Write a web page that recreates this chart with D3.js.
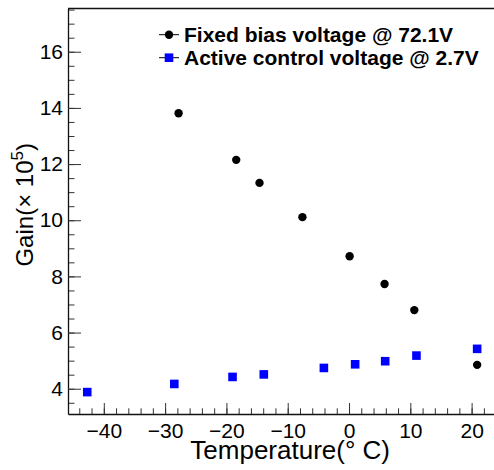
<!DOCTYPE html>
<html>
<head>
<meta charset="utf-8">
<script src="https://cdn.jsdelivr.net/npm/d3@7"></script>
<style>
  body { margin: 0; background: #fff; }
  svg { display: block; font-family: "Liberation Sans", Arial, sans-serif; }
</style>
</head>
<body>
<div class="chart"></div>
<script>
// Data
var tempFixed = [-27.8, -18.4, -14.6, -7.6, 0.1, 5.8, 10.65, 20.9];
var gainFixed = [13.81, 12.15, 11.33, 10.11, 8.72, 7.73, 6.80, 4.85];
var tempActive = [-42.7, -28.5, -19.0, -13.9, -4.1, 1.0, 5.9, 11.0, 20.9];
var gainActive = [3.88, 4.17, 4.42, 4.51, 4.74, 4.87, 4.98, 5.18, 5.42];
var legendLabels = ["Fixed bias voltage @ 72.1V", "Active control voltage @ 2.7V"];
var xTicks = [-40, -30, -20, -10, 0, 10, 20];
var yTicks = [4, 6, 8, 10, 12, 14, 16];

var svgWidth = 494;
var svgHeight = 470;

var margin = {
  top: 8.5,
  right: 0,
  bottom: 56,
  left: 68
};

var width = svgWidth - margin.left - margin.right;
var height = svgHeight - margin.top - margin.bottom;

var svg = d3.select(".chart")
  .append("svg")
  .attr("width", svgWidth)
  .attr("height", svgHeight);

var chartGroup = svg.append("g")
  .attr("transform", `translate(${margin.left}, ${margin.top})`);

// Scales
var xScale = d3.scaleLinear()
  .domain([-45.84, 23.65])
  .range([0, width]);

var yScale = d3.scaleLinear()
  .domain([3.1, 17.54])
  .range([height, 0]);

// Minor ticks (ROOT style, inside the frame)
chartGroup.append("g")
  .attr("transform", `translate(0, ${height})`)
  .call(d3.axisBottom(xScale).tickValues(d3.range(-44, 24, 2)).tickSize(-5.7).tickSizeOuter(0).tickFormat(""))
  .call(g => g.select(".domain").remove());

chartGroup.append("g")
  .call(d3.axisLeft(yScale).tickValues(d3.range(3.5, 17.6, 0.5)).tickSize(-6.5).tickSizeOuter(0).tickFormat(""))
  .call(g => g.select(".domain").remove());

// Major ticks with labels
var xAxis = chartGroup.append("g")
  .attr("transform", `translate(0, ${height})`)
  .call(d3.axisBottom(xScale).tickValues(xTicks).tickSize(-11).tickSizeOuter(0).tickPadding(9));

var yAxis = chartGroup.append("g")
  .call(d3.axisLeft(yScale).tickValues(yTicks).tickSize(-13).tickSizeOuter(0).tickPadding(5));

chartGroup.selectAll(".tick text")
  .style("font-size", "21px")
  .style("font-family", "Liberation Sans, Arial, sans-serif")
  .style("fill", "#000");

chartGroup.selectAll(".tick line").attr("stroke", "#333");
chartGroup.selectAll(".domain").attr("stroke", "#111").attr("stroke-width", 1.3);

// top frame line
chartGroup.append("line")
  .attr("x1", 0)
  .attr("x2", width)
  .attr("y1", 0)
  .attr("y2", 0)
  .attr("stroke", "#111")
  .attr("stroke-width", 1.3);

// Points
var fixedData = tempFixed.map((t, i) => ({t: t, g: gainFixed[i]}));
var activeData = tempActive.map((t, i) => ({t: t, g: gainActive[i]}));

var sq = 8.6;

chartGroup.selectAll(".active")
  .data(activeData)
  .enter()
  .append("rect")
  .attr("class", "active")
  .attr("x", d => xScale(d.t) - sq / 2)
  .attr("y", d => yScale(d.g) - sq / 2)
  .attr("width", sq)
  .attr("height", sq)
  .attr("fill", "#0000ff");

chartGroup.selectAll(".fixed")
  .data(fixedData)
  .enter()
  .append("circle")
  .attr("class", "fixed")
  .attr("cx", d => xScale(d.t))
  .attr("cy", d => yScale(d.g))
  .attr("r", 4.2)
  .attr("fill", "#000");

// Legend
var legend = svg.append("g");
var legendY = [34.7, 57.7];

legendLabels.forEach(function(label, i) {
  legend.append("line")
    .attr("x1", 159)
    .attr("x2", 179)
    .attr("y1", legendY[i])
    .attr("y2", legendY[i])
    .attr("stroke", "#000")
    .attr("stroke-width", 1);
  if (i === 0) {
    legend.append("circle")
      .attr("cx", 169)
      .attr("cy", legendY[i])
      .attr("r", 4.2)
      .attr("fill", "#000");
  } else {
    legend.append("rect")
      .attr("x", 169 - sq / 2)
      .attr("y", legendY[i] - sq / 2)
      .attr("width", sq)
      .attr("height", sq)
      .attr("fill", "#0000ff");
  }
  legend.append("text")
    .attr("x", 184)
    .attr("y", legendY[i] + 7.3)
    .style("font-size", "21px")
    .style("font-weight", "bold")
    .style("fill", "#000")
    .text(label);
});

// Axis titles
svg.append("text")
  .attr("x", 390)
  .attr("y", 459)
  .attr("text-anchor", "end")
  .style("font-size", "26px")
  .style("fill", "#000")
  .text("Temperature(° C)");

var yTitle = svg.append("text")
  .attr("transform", "translate(33, 143) rotate(-90)")
  .attr("text-anchor", "end")
  .style("font-size", "24px")
  .style("fill", "#000");

yTitle.append("tspan").text("Gain(× 10");
yTitle.append("tspan").attr("dy", -10).style("font-size", "17px").text("5");
yTitle.append("tspan").attr("dy", 10).text(")");
</script>
</body>
</html>
